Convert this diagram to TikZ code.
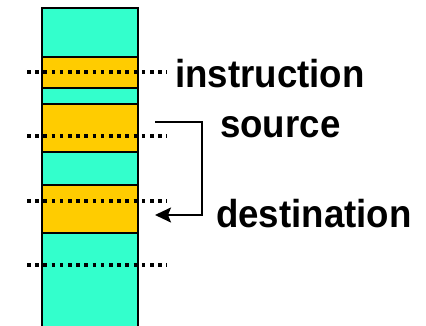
\documentclass[tikz,border=0pt]{standalone}
\usepackage{fontspec}
\setmainfont[FakeStretch=0.94]{Liberation Sans}
\usetikzlibrary{arrows.meta}
\definecolor{cellcyan}{RGB}{51,255,204}
\definecolor{cellyellow}{RGB}{255,204,0}
\tikzset{
  band/.style={draw=black,line width=2pt},
  dotline/.style={line width=3.5pt,dash pattern=on 3.5pt off 4.7pt,line cap=butt},
  lbl/.style={inner sep=0pt,anchor=base west,font=\bfseries\fontsize{39}{40}\selectfont},
  conn/.style={line width=2pt}
}
\begin{document}
\begin{tikzpicture}[x=1pt,y=-1pt]
\useasboundingbox (0,0) rectangle (426,326);
% column
\fill[cellcyan] (42,8) rectangle (137.5,330);
\draw[band] (42,330) -- (42,8) -- (137.5,8) -- (137.5,330);
\draw[band,fill=cellyellow] (42,57) rectangle (137.5,88);
\draw[band,fill=cellyellow] (42,104) rectangle (137.5,152);
\draw[band,fill=cellyellow] (42,185) rectangle (137.5,232.5);
% dotted lines
\foreach \y in {72,136,201,265} \draw[dotline] (27,\y) -- (167,\y);
% labels
\node[lbl] (instr) at (175,88) {instruction};
\node[lbl] (src) at (220,138) {source};
\node[lbl] (dst) at (216,227) {destination};
% connector
\coordinate (s) at (155,122);
\coordinate (c1) at (202,122);
\coordinate (c2) at (202,215);
\coordinate (d) at (155,215);
\draw[conn,-{Stealth[length=16pt,width=15pt,inset=3pt]}] (s) -- (c1) -- (c2) -- (d);
\end{tikzpicture}
\end{document}
